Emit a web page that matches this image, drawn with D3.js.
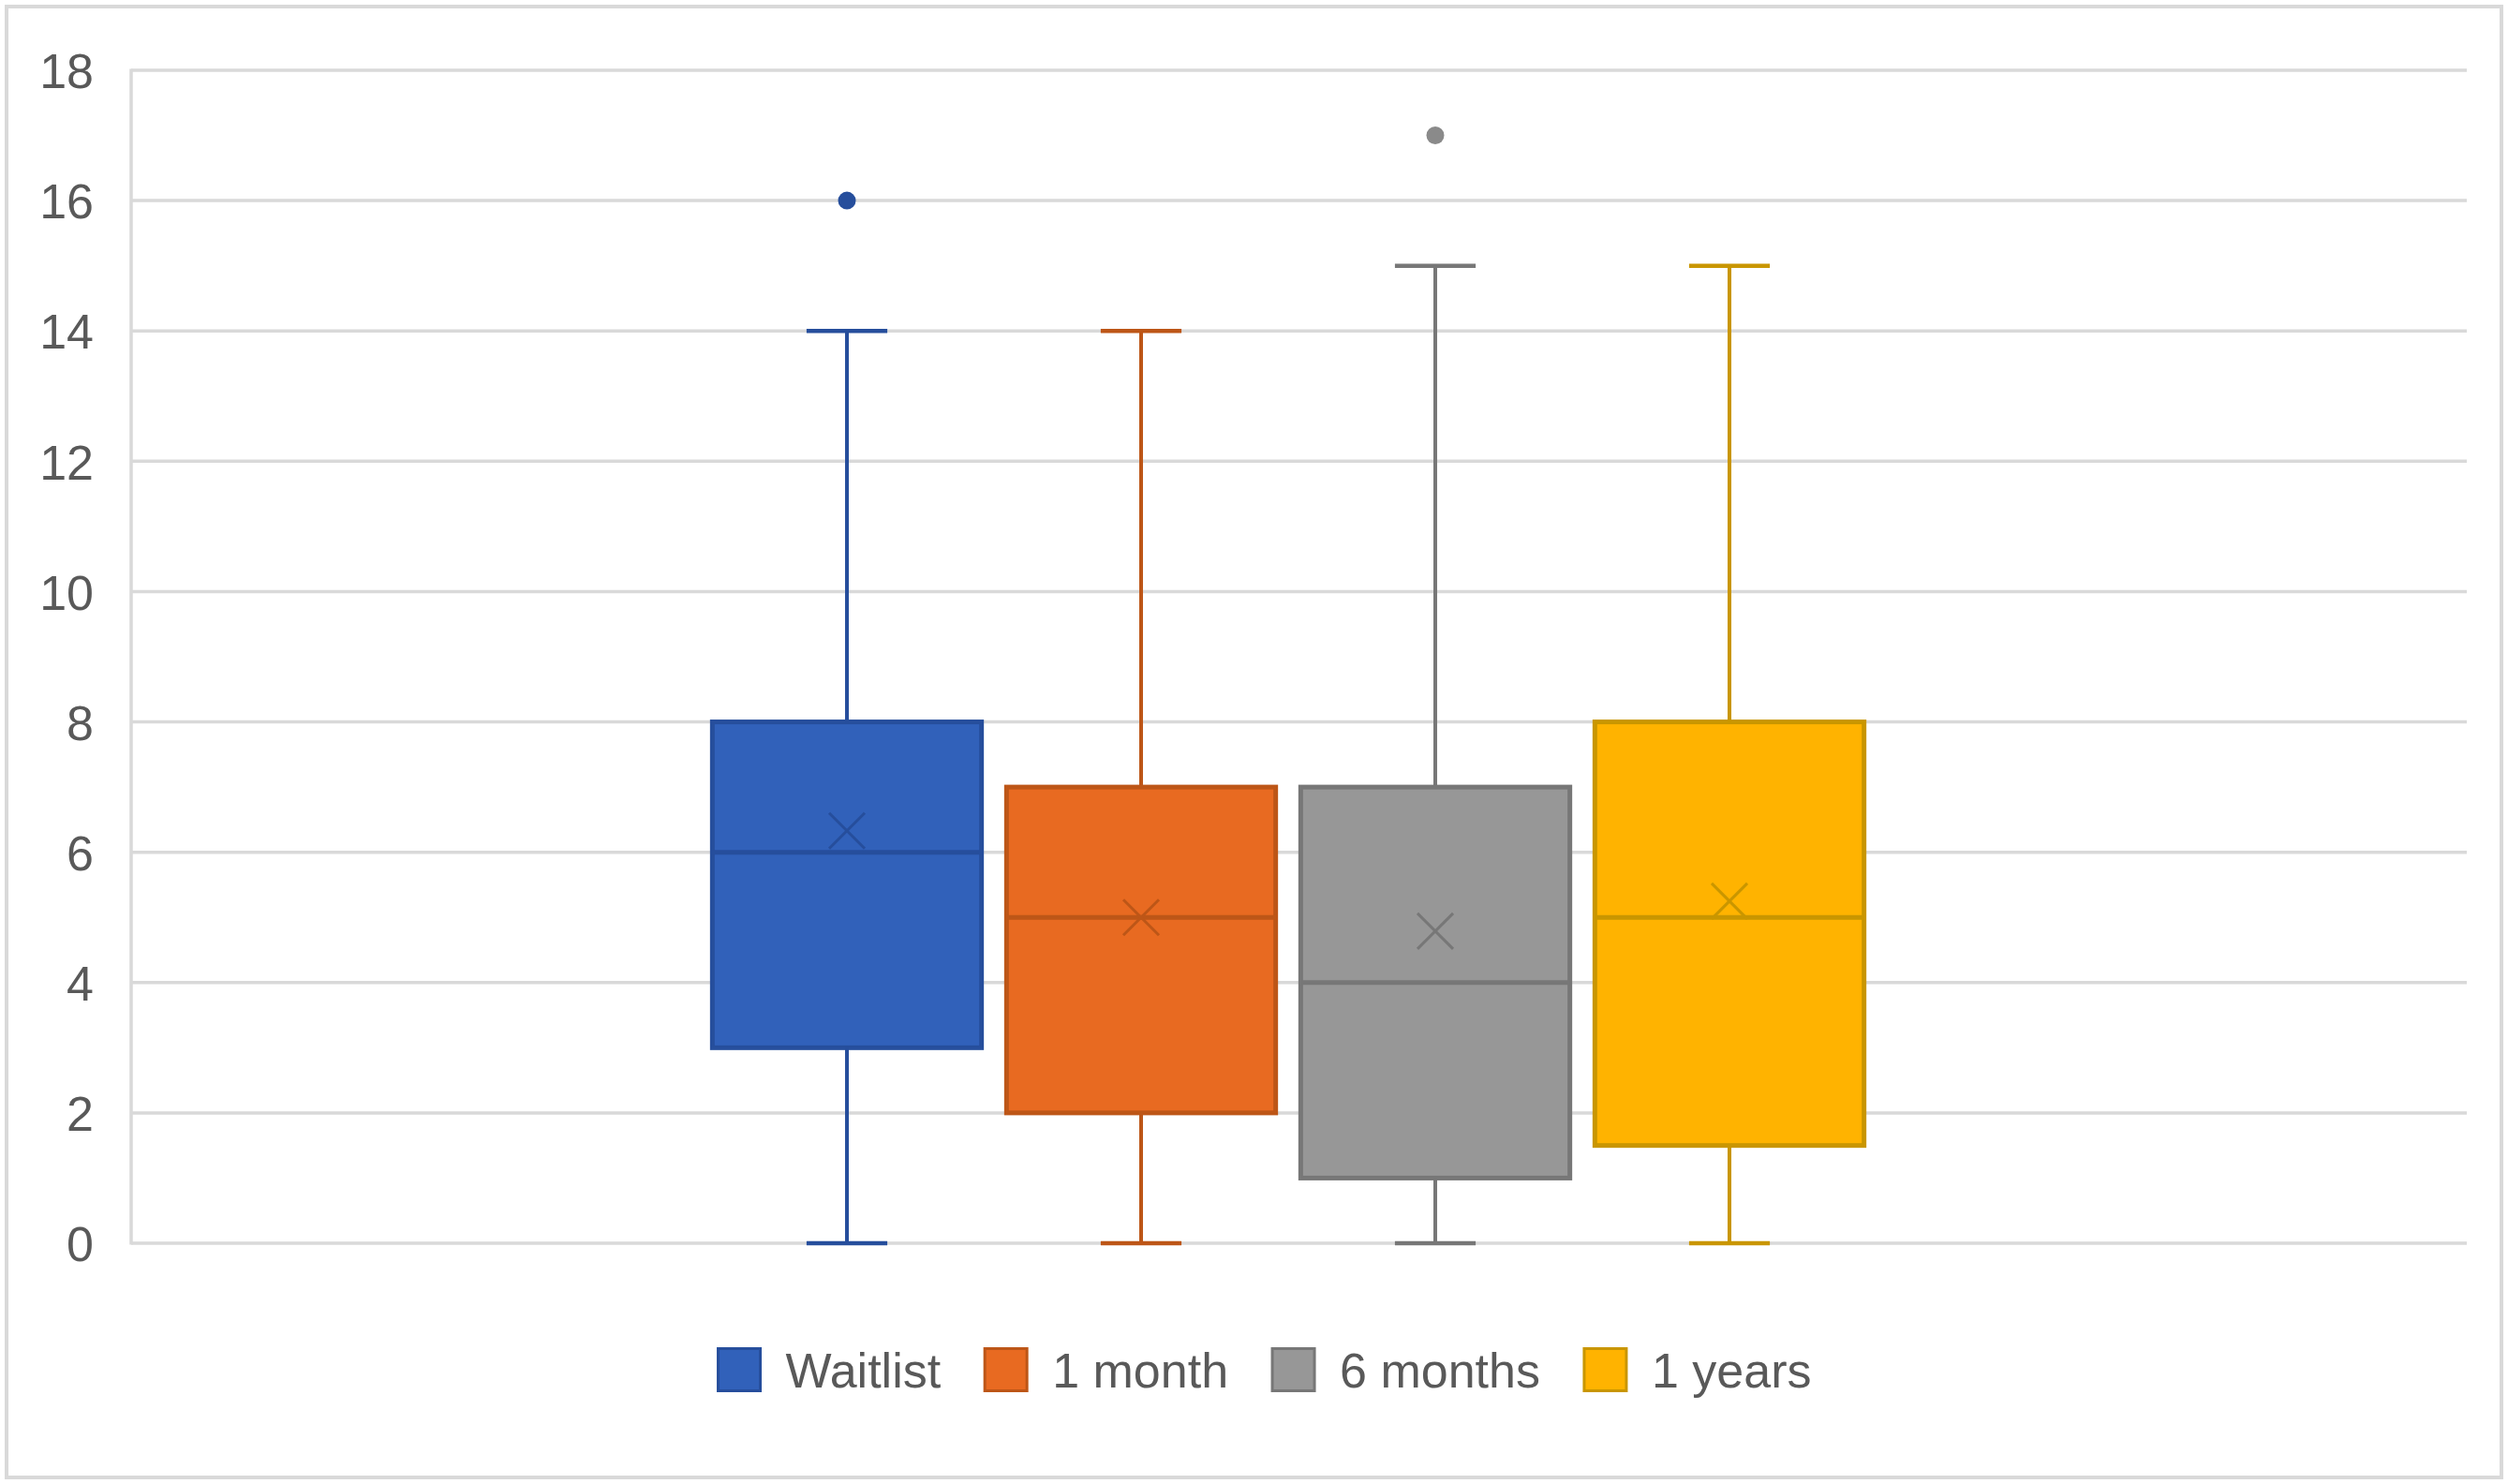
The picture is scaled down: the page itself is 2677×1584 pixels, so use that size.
<!DOCTYPE html>
<html>
<head>
<meta charset="utf-8">
<script src="https://cdn.jsdelivr.net/npm/d3@7"></script>
<style>
  html, body { margin: 0; padding: 0; background: #ffffff; }
  svg text { font-family: "Liberation Sans", Arial, sans-serif; }
</style>
</head>
<body>
<svg id="chart" width="2677" height="1584"></svg>
<script>
// ---- data ----
const series = ["Waitlist", "1 month", "6 months", "1 years"];
const mins    = [0, 0, 0, 0];
const q1s     = [3, 2, 1, 1.5];
const medians = [6, 5, 4, 5];
const q3s     = [8, 7, 7, 8];
const maxs    = [14, 14, 15, 15];
const means   = [6.33, 5.0, 4.79, 5.25];
const outliers = [[16], [], [17], []];
const yTicks  = [0, 2, 4, 6, 8, 10, 12, 14, 16, 18];
const fills   = ["#3161BA", "#E86A21", "#979797", "#FFB300"];
const strokes = ["#264E9C", "#BD5617", "#777777", "#C99600"];

// ---- layout ----
const W = 2677, H = 1584;
const plot = { left: 140, right: 2633, top: 75, bottom: 1327 };
const svg = d3.select("#chart");

svg.append("rect").attr("x", 7).attr("y", 7).attr("width", 2663).attr("height", 1570)
  .attr("fill", "#fff").attr("stroke", "#d9d9d9").attr("stroke-width", 4);

const y = d3.scaleLinear().domain([0, 18]).range([plot.bottom, plot.top]);
const x = d3.scaleBand().domain(series).range([747, 2003]).paddingInner(0.085).paddingOuter(0.0425);

// gridlines
svg.append("g").selectAll("line").data(yTicks).join("line")
  .attr("x1", plot.left).attr("x2", plot.right)
  .attr("y1", d => y(d)).attr("y2", d => y(d))
  .attr("stroke", "#d9d9d9").attr("stroke-width", 3.5);
svg.append("line").attr("x1", plot.left).attr("x2", plot.left)
  .attr("y1", y(18) - 1.5).attr("y2", y(0) + 1.5)
  .attr("stroke", "#d9d9d9").attr("stroke-width", 3.5);

// y axis labels
const yAxis = d3.axisLeft(y).tickValues(yTicks).tickSize(0).tickPadding(0).tickFormat(d3.format("d"));
const gy = svg.append("g").attr("transform", "translate(100,0)").call(yAxis);
gy.select(".domain").remove();
gy.selectAll("text").attr("font-size", 52).attr("fill", "#595959")
  .attr("font-family", "'Liberation Sans', Arial, sans-serif").attr("dy", "0.36em");

// boxes
const data = series.map((s, i) => ({
  s, i, min: mins[i], q1: q1s[i], med: medians[i], q3: q3s[i], max: maxs[i], mean: means[i], out: outliers[i]
}));
const bw = x.bandwidth();
const capW = bw * 0.3;
const g = svg.append("g");
const box = g.selectAll("g.box").data(data).join("g").attr("class", "box");

// whiskers
box.append("line").attr("x1", d => x(d.s) + bw / 2).attr("x2", d => x(d.s) + bw / 2)
  .attr("y1", d => y(d.max)).attr("y2", d => y(d.q3))
  .attr("stroke", d => strokes[d.i]).attr("stroke-width", 4);
box.append("line").attr("x1", d => x(d.s) + bw / 2).attr("x2", d => x(d.s) + bw / 2)
  .attr("y1", d => y(d.q1)).attr("y2", d => y(d.min))
  .attr("stroke", d => strokes[d.i]).attr("stroke-width", 4);
// caps
box.append("line").attr("x1", d => x(d.s) + bw / 2 - capW / 2).attr("x2", d => x(d.s) + bw / 2 + capW / 2)
  .attr("y1", d => y(d.max)).attr("y2", d => y(d.max))
  .attr("stroke", d => strokes[d.i]).attr("stroke-width", 4.5);
box.append("line").attr("x1", d => x(d.s) + bw / 2 - capW / 2).attr("x2", d => x(d.s) + bw / 2 + capW / 2)
  .attr("y1", d => y(d.min)).attr("y2", d => y(d.min))
  .attr("stroke", d => strokes[d.i]).attr("stroke-width", 4.5);
// box rect
box.append("rect").attr("x", d => x(d.s)).attr("width", bw)
  .attr("y", d => y(d.q3)).attr("height", d => y(d.q1) - y(d.q3))
  .attr("fill", d => fills[d.i]).attr("stroke", d => strokes[d.i]).attr("stroke-width", 5);
// median
box.append("line").attr("x1", d => x(d.s)).attr("x2", d => x(d.s) + bw)
  .attr("y1", d => y(d.med)).attr("y2", d => y(d.med))
  .attr("stroke", d => strokes[d.i]).attr("stroke-width", 5);
// mean X
const xs = 19;
box.append("path")
  .attr("d", d => {
    const cx = x(d.s) + bw / 2, cy = y(d.mean);
    return `M${cx - xs},${cy - xs}L${cx + xs},${cy + xs}M${cx - xs},${cy + xs}L${cx + xs},${cy - xs}`;
  })
  .attr("stroke", d => strokes[d.i]).attr("stroke-width", 3).attr("fill", "none");
// outliers
box.each(function(d) {
  d3.select(this).selectAll("circle").data(d.out).join("circle")
    .attr("cx", x(d.s) + bw / 2).attr("cy", v => y(v)).attr("r", 9.5)
    .attr("fill", d.i === 2 ? "#8a8a8a" : strokes[d.i]);
});

// legend
const leg = svg.append("g");
const items = leg.selectAll("g").data(series).join("g");
items.append("rect").attr("width", 45).attr("height", 45).attr("y", -22.5)
  .attr("fill", (d, i) => fills[i]).attr("stroke", (d, i) => strokes[i]).attr("stroke-width", 3);
items.append("text").text(d => d).attr("x", 72).attr("dy", "0.36em")
  .attr("font-size", 52).attr("fill", "#595959");
let cur = 0;
const offsets = [];
items.each(function() {
  offsets.push(cur);
  const tw = d3.select(this).select("text").node().getComputedTextLength();
  cur += 72 + tw + 47;
});
const total = cur - 47;
const legX = 1350 - total / 2;
items.attr("transform", (d, i) => `translate(${legX + offsets[i]},1462)`);
</script>
</body>
</html>
